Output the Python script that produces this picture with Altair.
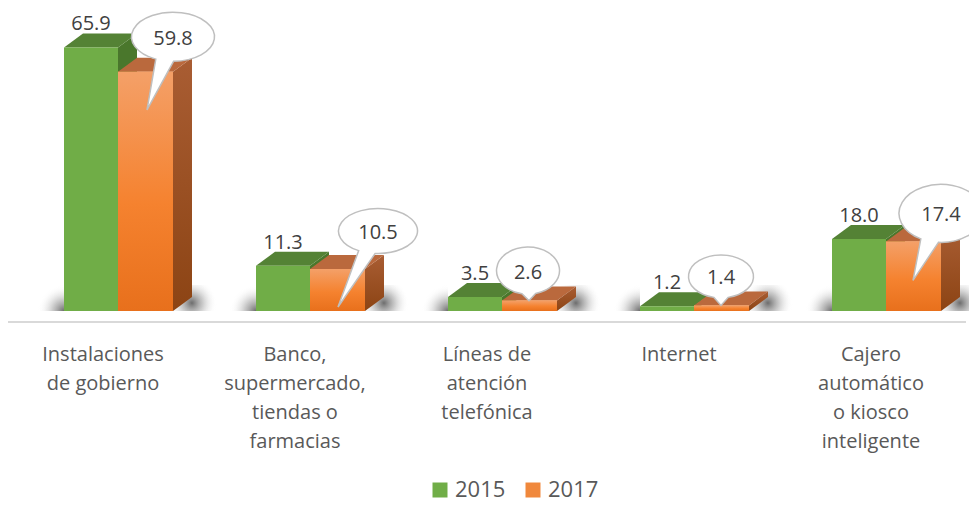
import math
import altair as alt
import pandas as pd

# ---------------- data ----------------
categories = [
    "Instalaciones\nde gobierno",
    "Banco,\nsupermercado,\ntiendas o\nfarmacias",
    "Líneas de\natención\ntelefónica",
    "Internet",
    "Cajero\nautomático\no kiosco\ninteligente",
]
series = ["2015", "2017"]
values_2015 = [65.9, 11.3, 3.5, 1.2, 18.0]
values_2017 = [59.8, 10.5, 2.6, 1.4, 17.4]

# ---------------- layout / style (pixels) ----------------
W, H = 958, 496
STEP = 192.0            # px per category
PXY = 4.0               # px per unit
BASE = 303              # px of the floor inside the plot
x_lo = -110 / STEP
x_hi = x_lo + W / STEP
y_hi = BASE / PXY
y_lo = y_hi - H / PXY
GW, OW = 54 / STEP, 55 / STEP       # front widths
DX, DY = 19 / STEP, 14 / PXY        # 3D depth
AXIS_Y = -11 / PXY
LABEL_Y = -50 / PXY
LABEL_SHIFT = -15 / STEP

# call-out bubbles (pixels, relative to top-right corner of the 2017 bar)
callout_dx = [0, 13, -29, -28, 0]
callout_rise = [35, 38, 30, 29, 28]
callout_rx = [41.5, 39.5, 31.5, 32.5, 42]
callout_ry = [24.5, 22.5, 23.5, 21.5, 29]
callout_tip_x = [-26, -40, 1, 0, -28]
callout_tip_y = [73, 76, 30, 29, 67]

GREEN, GREEN_TOP, GREEN_SIDE = "#70AD47", "#548235", "#4A772C"
ORANGE, ORANGE_TOP = "#F0883C", "#BA693D"
TXT, LBL = "#404040", "#595959"
FONT = "Open Sans"

xs = alt.Scale(domain=[x_lo, x_hi], nice=False, zero=False)
ys = alt.Scale(domain=[y_lo, y_hi], nice=False, zero=False)

# ---------------- geometry tables ----------------
bars, tops, sides = [], [], []
for i in range(len(categories)):
    for s, v, left, right in (("2015", values_2015[i], i - GW, i),
                              ("2017", values_2017[i], i, i + OW)):
        key = f"{s}-{i}"
        bars.append(dict(bar=key, series=s, x0=left, x1=right, y0=0.0, v=v))
        tops.append(dict(bar=key, series=s, y=v, xa=left, xb=right))
        tops.append(dict(bar=key, series=s, y=v + DY, xa=left + DX, xb=right + DX))
        sides.append(dict(bar=key, series=s, x=right, ya=0.0, yb=v))
        sides.append(dict(bar=key, series=s, x=right + DX, ya=DY, yb=v + DY))
bars = pd.DataFrame(bars)
tops = pd.DataFrame(tops)
sides = pd.DataFrame(sides)

shadow_stops = [
    alt.GradientStop(color="rgba(60,60,60,0.75)", offset=0),
    alt.GradientStop(color="rgba(110,110,110,0.35)", offset=0.45),
    alt.GradientStop(color="rgba(255,255,255,0)", offset=1),
]
idx = list(range(len(categories)))
left_sh = pd.DataFrame({"x0": [i - GW - 26 / STEP for i in idx], "x1": [i - GW for i in idx],
                        "y0": [0.0] * 5, "y1": [26 / PXY] * 5})
right_sh = pd.DataFrame({"x0": [i + OW for i in idx], "x1": [i + OW + DX + 26 / STEP for i in idx],
                         "y0": [0.0] * 5, "y1": [26 / PXY] * 5})

layers = []
layers.append(alt.Chart(left_sh).mark_rect(
    color=alt.RadialGradient(gradient="radial", stops=shadow_stops, x1=1, y1=1, r1=0, x2=1, y2=1, r2=1)
).encode(x=alt.X("x0:Q", scale=xs, axis=None), x2="x1:Q",
         y=alt.Y("y0:Q", scale=ys, axis=None), y2="y1:Q"))
layers.append(alt.Chart(right_sh).mark_rect(
    color=alt.RadialGradient(gradient="radial", stops=shadow_stops, x1=0.42, y1=0.61, r1=0, x2=0.42, y2=0.61, r2=0.55)
).encode(x=alt.X("x0:Q", scale=xs, axis=None), x2="x1:Q",
         y=alt.Y("y0:Q", scale=ys, axis=None), y2="y1:Q"))


def side_layer(s, color):
    return alt.Chart(sides[sides.series == s]).mark_area(orient="vertical", color=color, opacity=1).encode(
        x=alt.X("x:Q", scale=xs, axis=None),
        y=alt.Y("ya:Q", scale=ys, axis=None, stack=None), y2="yb:Q",
        detail="bar:N")


def top_layer(s, color):
    return alt.Chart(tops[tops.series == s]).mark_area(orient="horizontal", color=color, opacity=1).encode(
        y=alt.Y("y:Q", scale=ys, axis=None),
        x=alt.X("xa:Q", scale=xs, axis=None, stack=None), x2="xb:Q",
        detail="bar:N")


orange_side_grad = alt.LinearGradient(gradient="linear", x1=0, x2=0, y1=0, y2=1, stops=[
    alt.GradientStop(color="#A95D33", offset=0), alt.GradientStop(color="#8C4414", offset=1)])
orange_front_grad = alt.LinearGradient(gradient="linear", x1=0, x2=0, y1=0, y2=1, stops=[
    alt.GradientStop(color="#F4A068", offset=0), alt.GradientStop(color="#F5822F", offset=0.55),
    alt.GradientStop(color="#E8701C", offset=1)])

layers += [side_layer("2015", GREEN_SIDE), top_layer("2015", GREEN_TOP),
           side_layer("2017", orange_side_grad), top_layer("2017", ORANGE_TOP)]

layers.append(alt.Chart(bars).mark_rect().encode(
    x=alt.X("x0:Q", scale=xs, axis=None), x2="x1:Q",
    y=alt.Y("y0:Q", scale=ys, axis=None), y2="v:Q",
    color=alt.Color("series:N", scale=alt.Scale(domain=series, range=[GREEN, ORANGE]),
                    legend=alt.Legend(title=None, orient="none", legendX=421, legendY=471,
                                      direction="horizontal", symbolType="square", symbolSize=225,
                                      symbolStrokeWidth=0, symbolOpacity=1, labelFontSize=22,
                                      labelColor=LBL, labelFont=FONT, labelOffset=4,
                                      columnPadding=16, padding=0))))
layers.append(alt.Chart(bars[bars.series == "2017"]).mark_rect(color=orange_front_grad).encode(
    x=alt.X("x0:Q", scale=xs, axis=None), x2="x1:Q",
    y=alt.Y("y0:Q", scale=ys, axis=None), y2="v:Q"))

# baseline
layers.append(alt.Chart(pd.DataFrame({"y": [AXIS_Y]})).mark_rule(color="#D9D9D9", strokeWidth=2).encode(
    y=alt.Y("y:Q", scale=ys, axis=None), x=alt.value(0), x2=alt.value(W)))

# 2015 value labels
g = bars[bars.series == "2015"].copy()
g["xc"] = (g.x0 + g.x1) / 2
layers.append(alt.Chart(g).mark_text(font=FONT, fontSize=20, color=TXT, baseline="middle", dy=-23).encode(
    x=alt.X("xc:Q", scale=xs, axis=None), y=alt.Y("v:Q", scale=ys, axis=None),
    text=alt.Text("v:Q", format=".1f")))

# 2017 call-outs
bub = []
for i in idx:
    cx = i + OW + callout_dx[i] / STEP
    cy = values_2017[i] + callout_rise[i] / PXY
    rx, ry, tx, ty = callout_rx[i], callout_ry[i], callout_tip_x[i], callout_tip_y[i]
    th = math.atan2(ty / ry, tx / rx)
    d = 0.22
    p1 = (rx * math.cos(th - d), ry * math.sin(th - d))
    p2 = (rx * math.cos(th + d), ry * math.sin(th + d))
    path = (f"M {p1[0]:.2f} {p1[1]:.2f} L {tx} {ty} L {p2[0]:.2f} {p2[1]:.2f} "
            f"A {rx} {ry} 0 1 1 {p1[0]:.2f} {p1[1]:.2f} Z")
    row = pd.DataFrame({"x": [cx], "y": [cy], "v": [values_2017[i]]})
    layers.append(alt.Chart(row).mark_point(shape=path, size=4, filled=True, fill="white",
                                            stroke="#BFBFBF", strokeWidth=1.5, opacity=1,
                                            fillOpacity=1, strokeOpacity=1).encode(
        x=alt.X("x:Q", scale=xs, axis=None), y=alt.Y("y:Q", scale=ys, axis=None)))
    bub.append(dict(x=cx, y=cy, v=values_2017[i]))
bub = pd.DataFrame(bub)
layers.append(alt.Chart(bub).mark_text(font=FONT, fontSize=20, color=TXT, baseline="middle", dy=2).encode(
    x=alt.X("x:Q", scale=xs, axis=None), y=alt.Y("y:Q", scale=ys, axis=None),
    text=alt.Text("v:Q", format=".1f")))

# category labels
cats = pd.DataFrame({"x": [i + LABEL_SHIFT for i in idx], "y": [LABEL_Y] * 5, "t": categories})
layers.append(alt.Chart(cats).mark_text(font=FONT, fontSize=20, color=LBL, baseline="alphabetic",
                                        align="center", lineBreak="\n", lineHeight=29).encode(
    x=alt.X("x:Q", scale=xs, axis=None), y=alt.Y("y:Q", scale=ys, axis=None), text="t:N"))

chart = alt.layer(*layers).properties(
    width=W, height=H,
    autosize=alt.AutoSizeParams(type="none"),
    padding={"left": 0, "top": 0, "right": 3, "bottom": 0},
).configure(font=FONT).configure_view(strokeWidth=0)

chart.save("out.html", embed_options={"renderer": "svg", "actions": False})
